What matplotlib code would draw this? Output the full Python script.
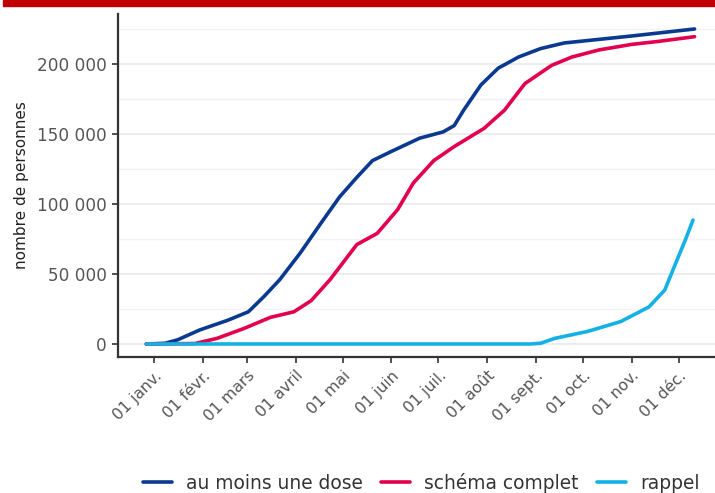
import numpy as np
import pandas as pd
import matplotlib
matplotlib.use("Agg")
import matplotlib.pyplot as plt
from matplotlib.patches import Rectangle
from matplotlib.ticker import FuncFormatter, MultipleLocator

# cumulative number of people vaccinated
dose1_dates = ["2020-12-27", "2021-01-08", "2021-01-16", "2021-01-30", "2021-02-17",
               "2021-03-02", "2021-03-12", "2021-03-22", "2021-04-04", "2021-04-17",
               "2021-04-29", "2021-05-10", "2021-05-20", "2021-05-31", "2021-06-19",
               "2021-07-04", "2021-07-11", "2021-07-17", "2021-07-28", "2021-08-08",
               "2021-08-21", "2021-09-04", "2021-09-19", "2021-11-01", "2021-11-17",
               "2021-12-11"]
dose1_values = [0, 500, 3000, 10000, 17000, 23000, 34000, 46000, 65000, 86000,
                105000, 119000, 131000, 137000, 147000, 151500, 156000, 167000,
                185000, 197000, 205000, 211000, 215000, 220000, 222000, 225000]

complet_dates = ["2020-12-27", "2021-01-27", "2021-02-10", "2021-02-27", "2021-03-16",
                 "2021-03-31", "2021-04-11", "2021-04-23", "2021-05-10", "2021-05-23",
                 "2021-06-05", "2021-06-15", "2021-06-28", "2021-07-11", "2021-07-30",
                 "2021-08-12", "2021-08-25", "2021-09-11", "2021-09-24", "2021-10-11",
                 "2021-11-01", "2021-11-17", "2021-12-11"]
complet_values = [0, 300, 4000, 11000, 19000, 23000, 31000, 46000, 71000, 79000,
                  96000, 115000, 131000, 141000, 154000, 167000, 186000, 199000,
                  205000, 210000, 214000, 216000, 219500]

rappel_dates = ["2020-12-27", "2021-08-28", "2021-09-04", "2021-09-13", "2021-10-04",
                "2021-10-25", "2021-11-12", "2021-11-22", "2021-11-28", "2021-12-05",
                "2021-12-10"]
rappel_values = [0, 0, 500, 4000, 9000, 16000, 26500, 38500, 55000, 74000, 88500]

series_labels = ["au moins une dose", "schéma complet", "rappel"]
series_colors = ["#0a3a8f", "#e3004f", "#14b1e7"]

month_labels = ["01 janv.", "01 févr.", "01 mars", "01 avril", "01 mai", "01 juin",
                "01 juil.", "01 août", "01 sept.", "01 oct.", "01 nov.", "01 déc."]

plt.rcParams["font.family"] = ["DejaVu Sans"]

fig = plt.figure(figsize=(7.15, 4.93), dpi=100)
ax = fig.add_axes([118 / 715, 1 - 357 / 493, 1 - 118 / 715, (357 - 14) / 493])

# red band at the top
fig.patches.append(Rectangle((3 / 715, 1 - 6 / 493), 1, 6 / 493,
                             transform=fig.transFigure, color="#c00000", zorder=5))

all_dates = [dose1_dates, complet_dates, rappel_dates]
all_values = [dose1_values, complet_values, rappel_values]
for d, v, lab, col in zip(all_dates, all_values, series_labels, series_colors):
    ax.plot(pd.to_datetime(d), v, color=col, lw=2.6, label=lab,
            solid_capstyle="round", zorder=3)

ax.set_xlim(pd.Timestamp("2020-12-09"), pd.Timestamp("2021-12-24"))
ax.set_ylim(-9300, 235700)

ticks = pd.date_range("2021-01-01", "2021-12-01", freq="MS")
ax.set_xticks(ticks)
ax.set_xticklabels(month_labels, rotation=45, ha="right", rotation_mode="anchor",
                   fontsize=11.3, color="#555555")
ax.yaxis.set_major_locator(MultipleLocator(50000))
ax.yaxis.set_minor_locator(MultipleLocator(25000))
ax.yaxis.set_major_formatter(FuncFormatter(lambda v, p: f"{int(v):,}".replace(",", " ")))
ax.tick_params(axis="y", labelsize=12.2, labelcolor="#555555", length=4, width=1.2,
               color="#333333", pad=4)
ax.tick_params(axis="y", which="minor", length=0)
ax.tick_params(axis="x", length=4, width=1.2, color="#333333", pad=4)

ax.grid(axis="y", which="major", color="#ebebeb", lw=1.3, zorder=0)
ax.grid(axis="y", which="minor", color="#f2f2f2", lw=1.0, zorder=0)
ax.grid(axis="x", visible=False)
for s in ["top", "right"]:
    ax.spines[s].set_visible(False)
for s in ["left", "bottom"]:
    ax.spines[s].set_color("#333333")
    ax.spines[s].set_linewidth(1.6)

ax.set_ylabel("nombre de personnes", fontsize=11, color="#222222", labelpad=6)

leg = fig.legend(loc="center", bbox_to_anchor=(421 / 715, 1 - 483 / 493), ncol=3,
                 frameon=False, fontsize=13.4, handlelength=1.55, handletextpad=0.75,
                 columnspacing=1.0)
for t in leg.get_texts():
    t.set_color("#333333")

fig.savefig("out.png", dpi=100)
